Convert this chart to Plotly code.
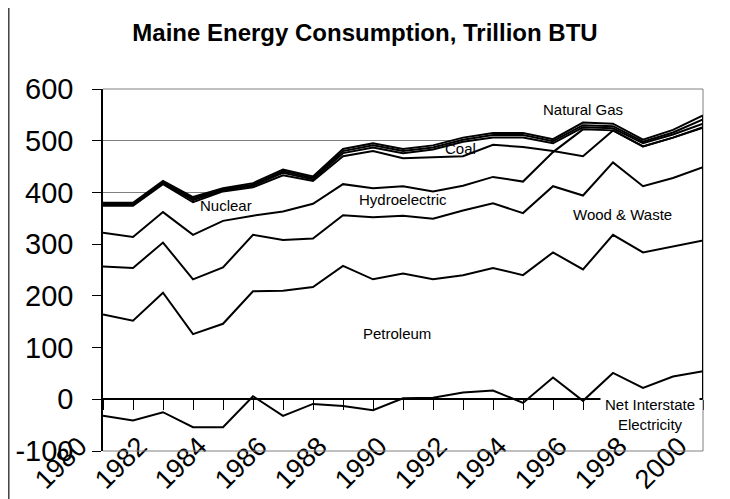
import plotly.graph_objects as go

# ---- data ----
years = list(range(1980, 2001))
label_years = list(range(1980, 2001, 2))
y_ticks = [-100, 0, 100, 200, 300, 400, 500, 600]
y_tick_text = ["-100", "0", "100", "200", "300", "400", "500", "600"]

# Net interstate electricity (bottom line, can be negative)
net_interstate = [-32, -41, -25, -54, -54, 6, -32, -9, -13, -21, 2, 3, 13, 17, -7, 42, -3, 51, 22, 44, 54]
# cumulative (stacked) levels of the other boundaries
petroleum_top = [164, 152, 206, 126, 146, 209, 210, 217, 258, 232, 243, 232, 240, 254, 240, 284, 251, 318, 284, 296, 307]
wood_waste_top = [257, 254, 303, 232, 255, 318, 308, 311, 356, 352, 355, 349, 365, 379, 360, 412, 394, 458, 412, 428, 449]
hydro_top = [322, 314, 362, 318, 345, 355, 363, 378, 416, 408, 412, 402, 413, 430, 421, 478, 522, 520, 489, 506, 525]
nuclear_top = [374, 374, 416, 381, 402, 410, 433, 422, 470, 480, 466, 468, 470, 492, 488, 480, 470, 520, 489, 506, 526]
coal_top = [376, 376, 418, 385, 404, 413, 438, 425, 476, 487, 476, 483, 498, 506, 506, 495, 526, 524, 495, 512, 533]
other_top = [378, 378, 420, 388, 406, 415, 441, 428, 480, 491, 480, 487, 502, 511, 511, 499, 530, 528, 498, 516, 541]
gas_top = [380, 380, 422, 391, 408, 418, 444, 431, 484, 495, 484, 491, 506, 515, 515, 503, 535, 533, 502, 521, 549]

FONT = "Liberation Sans, Arial, sans-serif"

fig = go.Figure()

# white area under the stack hides the gridlines, as in the original stacked-area chart
fig.add_trace(go.Scatter(x=years, y=gas_top, mode="none", fill="tozeroy",
                         fillcolor="white", hoverinfo="skip", showlegend=False))

for name, arr in [("Petroleum", petroleum_top), ("Wood & Waste", wood_waste_top),
                  ("Hydroelectric", hydro_top), ("Nuclear", nuclear_top),
                  ("Coal", coal_top), ("Other", other_top), ("Natural Gas", gas_top)]:
    fig.add_trace(go.Scatter(x=years, y=arr, mode="lines", name=name,
                             line=dict(color="black", width=2), showlegend=False))

fig.add_trace(go.Scatter(x=years, y=net_interstate, mode="lines", name="Net Interstate Electricity",
                         xaxis="x2", line=dict(color="black", width=2), showlegend=False))

ymin, ymax = y_ticks[0], y_ticks[-1]
zero_pos = (0 - ymin) / (ymax - ymin)

# page body has an 8px margin, so the figure is 8px smaller and margins are 8px less
W, H = 722, 491
fig.update_layout(
    width=W, height=H,
    margin=dict(l=95, r=27, t=81, b=48, autoexpand=False),
    paper_bgcolor="white", plot_bgcolor="white",
    font=dict(family=FONT, color="black"),
    title=dict(text="<b>Maine Energy Consumption, Trillion BTU</b>",
               font=dict(family=FONT, size=24, color="black"),
               x=0.5 - 4 / W, xref="container", xanchor="center",
               y=1 - 25 / H, yref="container", yanchor="middle", automargin=False),
    xaxis=dict(range=[years[0], years[-1]], tickvals=label_years,
               ticktext=[str(y) for y in label_years], tickangle=-45,
               tickfont=dict(family=FONT, size=27, color="black"),
               ticks="", showline=False, showgrid=False, zeroline=False,
               automargin=False, ticklabelstandoff=-27, ticklabelshift=-24),
    xaxis2=dict(overlaying="x", anchor="free", position=zero_pos,
                range=[years[0], years[-1]], tickvals=years, ticks="outside",
                ticklen=10, tickwidth=1, tickcolor="black", showticklabels=False,
                showline=True, linecolor="black", linewidth=1.5,
                showgrid=False, zeroline=False, automargin=False),
    yaxis=dict(range=[ymin, ymax], tickvals=y_ticks, ticktext=y_tick_text,
               ticks="outside", ticklen=9,
               tickcolor="black", tickwidth=1, showline=True, linecolor="black",
               linewidth=1.5, showgrid=True, gridcolor="#808080", gridwidth=1,
               zeroline=False, tickfont=dict(family=FONT, size=29, color="black"),
               ticklabelstandoff=13, automargin=False),
)

shapes = [
    # plot-area border (top, right, bottom) in grey
    dict(type="path", xref="paper", yref="paper", path="M 0,1 L 1,1 L 1,0 L 0,0",
         line=dict(color="#808080", width=1), layer="above"),
    # right edge of the stacked area
    dict(type="line", xref="x", yref="y", x0=years[-1], x1=years[-1],
         y0=0, y1=gas_top[-1], line=dict(color="black", width=2), layer="above"),
    # outer chart border
    dict(type="path", xref="paper", yref="paper",
         path="M -0.157,-0.3 L -0.157,1.232 L 1.5,1.232",
         line=dict(color="#404040", width=1.5), layer="above"),
]
fig.update_layout(shapes=shapes)

labels = [
    ("Natural Gas", 1996.0, 560),
    ("Coal", 1991.9, 485),
    ("Nuclear", 1984.1, 374),
    ("Hydroelectric", 1990.0, 386),
    ("Wood & Waste", 1997.3, 357),
    ("Petroleum", 1989.8, 128),
]
ann = [dict(text=t, x=x, y=y, xref="x", yref="y", showarrow=False,
            font=dict(family=FONT, size=15, color="black")) for t, x, y in labels]
ann.append(dict(text="Net Interstate<br>Electricity", x=1998.23, y=-29, xref="x", yref="y",
                showarrow=False, bgcolor="white", borderpad=4,
                font=dict(family=FONT, size=15, color="black")))
fig.update_layout(annotations=ann)

fig.write_html("out.html")
